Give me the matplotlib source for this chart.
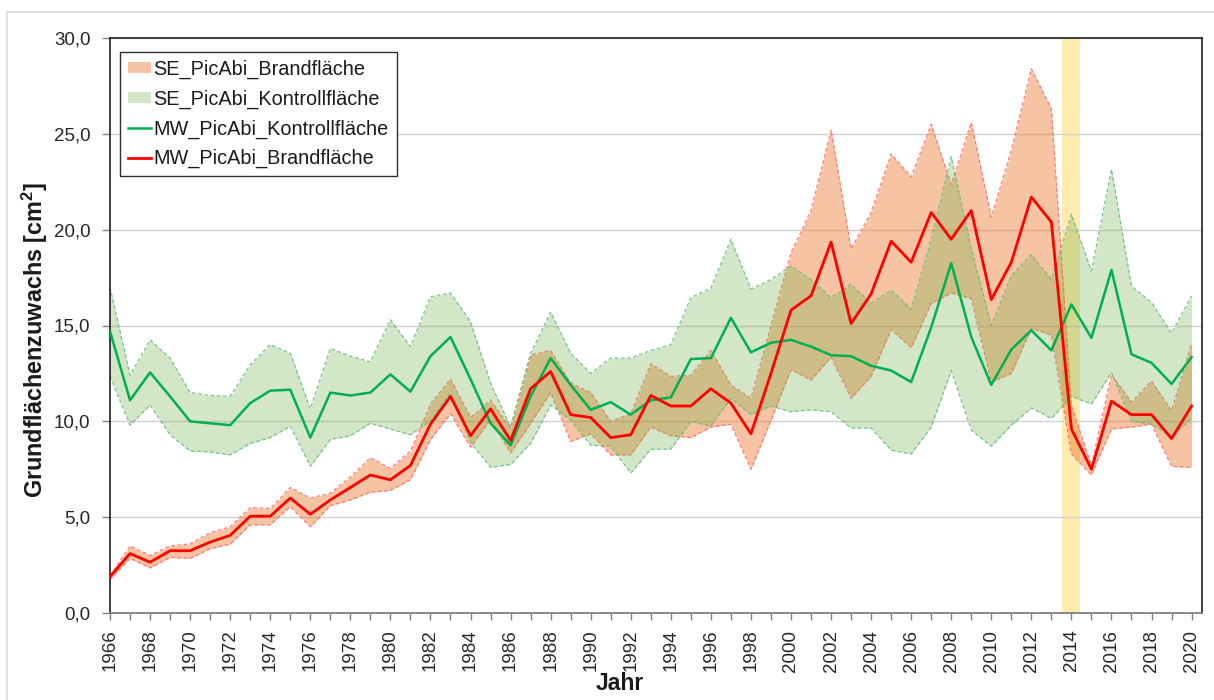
import numpy as np
import matplotlib
matplotlib.use('Agg')
import matplotlib.pyplot as plt
from matplotlib.patches import Patch
from matplotlib.lines import Line2D

plt.rcParams['font.family'] = ['Liberation Sans', 'DejaVu Sans']

years = np.arange(1966, 2021)

# MW / SE Kontrollfläche (green)
mw_kontroll = [14.7, 11.1, 12.55, 11.3, 10.0, 9.9, 9.8, 10.95, 11.6, 11.65,
               9.15, 11.5, 11.35, 11.5, 12.45, 11.55, 13.4, 14.4, 12.2, 9.9,
               8.75, 11.3, 13.3, 11.9, 10.6, 11.0, 10.35, 11.1, 11.25, 13.25,
               13.3, 15.4, 13.6, 14.1, 14.25, 13.9, 13.45, 13.4, 12.9, 12.65,
               12.05, 14.9, 18.25, 14.4, 11.9, 13.75, 14.75, 13.7, 16.1, 14.35,
               17.9, 13.5, 13.05, 11.95, 13.35]
se_kontroll_hi = [17.0, 12.4, 14.25, 13.3, 11.5, 11.35, 11.3, 12.95, 14.0, 13.55,
                  10.65, 13.8, 13.4, 13.1, 15.3, 13.9, 16.5, 16.7, 15.2, 12.0,
                  9.7, 13.55, 15.7, 13.55, 12.5, 13.3, 13.3, 13.7, 14.0, 16.45,
                  16.95, 19.5, 16.9, 17.4, 18.1, 17.4, 16.45, 17.15, 16.15, 16.85,
                  15.85, 19.5, 23.8, 19.0, 15.0, 17.6, 18.7, 17.4, 20.8, 17.85,
                  23.15, 17.05, 16.2, 14.6, 16.55]
se_kontroll_lo = [12.35, 9.8, 10.85, 9.3, 8.45, 8.4, 8.25, 8.85, 9.15, 9.75,
                  7.65, 9.05, 9.25, 9.9, 9.6, 9.3, 10.0, 11.5, 8.9, 7.6,
                  7.75, 8.85, 10.85, 10.05, 8.75, 8.7, 7.3, 8.55, 8.55, 10.0,
                  9.75, 11.2, 10.35, 10.8, 10.5, 10.6, 10.5, 9.65, 9.65, 8.5,
                  8.3, 9.7, 12.65, 9.55, 8.7, 9.8, 10.7, 10.15, 11.3, 10.9,
                  12.55, 10.0, 9.85, 9.2, 10.15]

# MW / SE Brandfläche (red)
mw_brand = [1.9, 3.1, 2.65, 3.25, 3.25, 3.7, 4.05, 5.05, 5.05, 6.0,
            5.15, 5.9, 6.55, 7.2, 6.95, 7.7, 9.85, 11.3, 9.25, 10.65,
            9.0, 11.7, 12.6, 10.35, 10.2, 9.15, 9.3, 11.35, 10.8, 10.8,
            11.7, 10.95, 9.35, 12.5, 15.8, 16.55, 19.35, 15.1, 16.65, 19.4,
            18.3, 20.9, 19.5, 21.0, 16.35, 18.3, 21.7, 20.4, 9.6, 7.5,
            11.05, 10.35, 10.35, 9.1, 10.8]
se_brand_hi = [1.95, 3.5, 3.0, 3.5, 3.6, 4.2, 4.5, 5.5, 5.45, 6.55,
               6.0, 6.25, 7.1, 8.1, 7.55, 8.45, 10.9, 12.2, 10.2, 11.1,
               9.65, 13.45, 13.7, 12.0, 11.5, 10.0, 10.4, 13.0, 12.35, 12.4,
               13.7, 11.9, 11.2, 15.0, 18.8, 21.0, 25.2, 19.0, 20.9, 23.95,
               22.75, 25.5, 22.35, 25.6, 20.65, 24.15, 28.4, 26.3, 10.8, 7.7,
               12.45, 11.0, 12.1, 10.55, 14.05]
se_brand_lo = [1.75, 2.85, 2.35, 2.9, 2.85, 3.35, 3.6, 4.6, 4.6, 5.55,
               4.5, 5.6, 5.9, 6.3, 6.4, 6.95, 9.05, 10.4, 8.65, 10.1,
               8.35, 9.9, 11.5, 8.95, 9.35, 8.25, 8.25, 9.7, 9.25, 9.15,
               9.7, 9.85, 7.5, 10.05, 12.7, 12.15, 13.35, 11.2, 12.35, 14.8,
               13.85, 16.15, 16.7, 16.4, 12.05, 12.5, 14.85, 14.5, 8.3, 7.2,
               9.6, 9.7, 9.85, 7.65, 7.6]

brand_year = 2014

orange = '#ED7D31'
lgreen = '#70AD47'

fig = plt.figure(figsize=(12.14, 7.0), dpi=100)
ax = fig.add_axes([110/1214, 1-613/700, (1202-110)/1214, (613-38)/700])

# light chart border (top/left visible)
fig.add_artist(Line2D([7/1214, 1.0], [1-12/700, 1-12/700], transform=fig.transFigure, color='#d9d9d9', lw=1.2))
fig.add_artist(Line2D([7/1214, 7/1214], [0.0, 1-12/700], transform=fig.transFigure, color='#d9d9d9', lw=1.2))

ax.axvspan(brand_year - 0.45, brand_year + 0.45, color='#FFE699', alpha=0.8, lw=0, zorder=0.5)

ax.fill_between(years, se_brand_lo, se_brand_hi, color=orange, alpha=0.45, lw=0, zorder=1)
ax.plot(years, se_brand_hi, ls=(0, (3, 2)), color='#FF6B6B', lw=0.9, alpha=0.85, zorder=1.1)
ax.plot(years, se_brand_lo, ls=(0, (3, 2)), color='#FF6B6B', lw=0.9, alpha=0.85, zorder=1.1)

ax.fill_between(years, se_kontroll_lo, se_kontroll_hi, color=lgreen, alpha=0.3, lw=0, zorder=2)
ax.plot(years, se_kontroll_hi, ls=(0, (3, 2)), color='#5DBE7E', lw=0.9, alpha=0.85, zorder=2.1)
ax.plot(years, se_kontroll_lo, ls=(0, (3, 2)), color='#5DBE7E', lw=0.9, alpha=0.85, zorder=2.1)

ax.plot(years, mw_kontroll, color='#00B050', lw=1.8, zorder=3)
ax.plot(years, mw_brand, color='#FF0000', lw=2.0, zorder=4)

ax.set_xlim(1966, 2020.52)
ax.set_ylim(0, 30)
yt = np.arange(0, 31, 5)
ax.set_yticks(yt)
ax.set_yticklabels([('%.1f' % v).replace('.', ',') for v in yt])
ax.set_xticks(np.arange(1966, 2021, 1), minor=True)
ax.set_xticks(np.arange(1966, 2021, 2))
ax.set_xticklabels([str(y) for y in range(1966, 2021, 2)], rotation=90)
ax.tick_params(axis='x', which='both', direction='out', length=5, width=1, color='#808080',
               labelsize=13.5, labelcolor='#262626', pad=7)
ax.tick_params(axis='y', direction='out', length=6, width=1, color='#808080',
               labelsize=13.5, labelcolor='#262626', pad=8)
ax.yaxis.grid(True, color='#d0d0d0', lw=1.0, zorder=0)
ax.set_axisbelow(True)
for s in ax.spines.values():
    s.set_color('#303030')
    s.set_linewidth(1.3)
ax.spines['bottom'].set_color('#808080')

fig.text(35/1214, 1-340/700, 'Grundflächenzuwachs [cm$^{\\mathregular{2}}$]', rotation=90,
         ha='center', va='center', fontsize=16.8, fontweight='bold', color='#1a1a1a')
fig.text(620/1214, 1-683/700, 'Jahr', ha='center', va='center', fontsize=16.5,
         fontweight='bold', color='#1a1a1a')

handles = [Patch(facecolor=orange, alpha=0.45, lw=0),
           Patch(facecolor=lgreen, alpha=0.3, lw=0),
           Line2D([], [], color='#00B050', lw=1.8),
           Line2D([], [], color='#FF0000', lw=2.0)]
labels = ['SE_PicAbi_Brandfläche', 'SE_PicAbi_Kontrollfläche',
          'MW_PicAbi_Kontrollfläche', 'MW_PicAbi_Brandfläche']
leg = ax.legend(handles, labels, loc='upper left', bbox_to_anchor=(0.009, 0.976),
                borderaxespad=0, fontsize=14.3, frameon=True, fancybox=False,
                framealpha=1, edgecolor='#303030', handlelength=1.15,
                handleheight=0.45, handletextpad=0.15, labelspacing=0.53,
                borderpad=0.4)
leg.get_frame().set_linewidth(1.0)
for t in leg.get_texts():
    t.set_color('#1a1a1a')

plt.savefig('out.png', dpi=100)
